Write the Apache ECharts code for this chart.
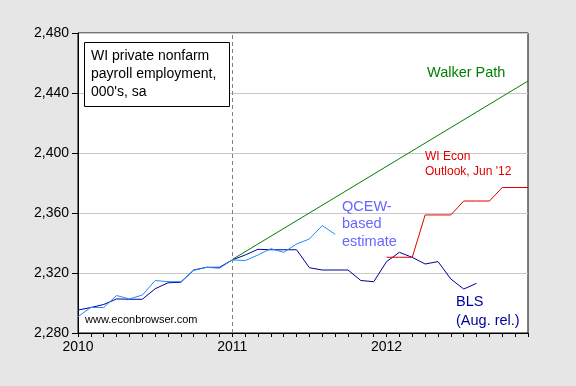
<!DOCTYPE html>
<html>
<head>
<meta charset="utf-8">
<script src="https://cdn.jsdelivr.net/npm/echarts@6/dist/echarts.min.js"></script>
<style>
html,body{margin:0;padding:0;background:#e6e6e6;}
#chart{width:576px;height:386px;}
</style>
</head>
<body>
<div id="chart"></div>
<script>
// Month index: 0 = Jan 2010
const yearLabels = ['2010', '2011', '2012'];
const yTicks = [2280, 2320, 2360, 2400, 2440, 2480];

// BLS (Aug. release), Jan 2010 onward
const blsValues = [2295.3, 2297, 2299, 2302.7, 2302.5, 2302.5, 2309.5, 2313.5, 2313.8, 2322,
  2323.8, 2323.8, 2328.7, 2332, 2335.8, 2335.5, 2335.5, 2335.5, 2323.5, 2322,
  2322, 2322, 2315, 2314.2, 2327.6, 2333.8, 2330.4, 2326, 2327.6, 2316,
  2309.3, 2313.1];
// QCEW-based estimate, Jan 2010 onward
const qcewValues = [2291, 2297, 2297, 2305, 2302.7, 2305.3, 2315, 2314.2, 2314.2, 2321.8,
  2323.8, 2323.2, 2328.7, 2328.3, 2332, 2336.2, 2333.8, 2339.3, 2342.7, 2351.6,
  2345.8];
// Walker Path endpoints (month index, value)
const walkerMonths = [12, 35];
const walkerValues = [2329, 2448];
// WI Econ Outlook, Jun '12, starting Jan 2012 (month 24)
const outlookStart = 24;
const outlookValues = [2330.5, 2330.5, 2330.5, 2358.7, 2358.7, 2358.7, 2368, 2368, 2368, 2377, 2377, 2377];

const pairs = (arr, start) => arr.map((v, i) => [start + i, v]);
const fmt = v => String(v).replace(/\B(?=(\d{3})+(?!\d))/g, ',');
const FONT = '"Liberation Sans", Arial, sans-serif';

const chart = echarts.init(document.getElementById('chart'));
chart.setOption({
  backgroundColor: '#e6e6e6',
  animation: false,
  grid: {left: 78, top: 33, right: 48, bottom: 53, show: true, backgroundColor: '#ffffff', borderColor: '#000', borderWidth: 1},
  xAxis: {
    type: 'value', min: 0, max: 35, interval: 1,
    axisLine: {show: true, lineStyle: {color: '#000', width: 1}},
    axisTick: {show: true, length: 4, lineStyle: {color: '#000'}},
    splitLine: {show: false},
    axisLabel: {
      margin: 7, color: '#000', fontSize: 14, fontFamily: FONT,
      formatter: v => (v % 12 === 0 ? yearLabels[v / 12] : '')
    }
  },
  yAxis: {
    type: 'value', min: yTicks[0], max: yTicks[yTicks.length - 1], interval: 40,
    axisLine: {show: true, lineStyle: {color: '#000', width: 1}},
    axisTick: {show: true, length: 6, lineStyle: {color: '#000'}},
    splitLine: {show: true, lineStyle: {color: '#c8c8c8', width: 1}},
    axisLabel: {margin: 9, color: '#000', fontSize: 14, fontFamily: FONT, formatter: fmt}
  },
  series: [
    {
      name: 'Walker Path', type: 'line', symbol: 'none',
      data: walkerMonths.map((m, i) => [m, walkerValues[i]]),
      lineStyle: {color: '#008000', width: 1},
      markLine: {
        silent: true, symbol: 'none', label: {show: false},
        lineStyle: {color: '#808080', type: [4, 3], width: 1},
        data: [{xAxis: 12}]
      }
    },
    {
      name: 'BLS', type: 'line', symbol: 'none',
      data: pairs(blsValues, 0),
      lineStyle: {color: '#00009c', width: 1}
    },
    {
      name: 'QCEW', type: 'line', symbol: 'none',
      data: pairs(qcewValues, 0),
      lineStyle: {color: '#1e8cff', width: 1}
    },
    {
      name: 'WI Econ Outlook', type: 'line', symbol: 'none',
      data: pairs(outlookValues, outlookStart),
      lineStyle: {color: '#e00000', width: 1}
    }
  ],
  graphic: [
    {type: 'rect', shape: {x: 84.5, y: 42.5, width: 145, height: 64}, style: {fill: '#fff', stroke: '#000', lineWidth: 1}, z: 100},
    {type: 'text', left: 91, top: 47, z: 101, style: {text: 'WI private nonfarm\npayroll employment,\n000\'s, sa', fill: '#000', font: '14px ' + FONT, lineHeight: 18}},
    {type: 'text', left: 427, top: 65, z: 101, style: {text: 'Walker Path', fill: '#008000', font: '14.5px ' + FONT}},
    {type: 'text', left: 425, top: 149.5, z: 101, style: {text: 'WI Econ\nOutlook, Jun \'12', fill: '#e00000', font: '12px ' + FONT, lineHeight: 15}},
    {type: 'text', left: 342, top: 198, z: 101, style: {text: 'QCEW-\nbased\nestimate', fill: '#6666ff', font: '14.5px ' + FONT, lineHeight: 17.5}},
    {type: 'text', left: 456, top: 292, z: 101, style: {text: 'BLS\n(Aug. rel.)', fill: '#00009c', font: '14.5px ' + FONT, lineHeight: 19}},
    {type: 'text', left: 85, top: 314, z: 101, style: {text: 'www.econbrowser.com', fill: '#000', font: '11px ' + FONT}}
  ]
});
</script>
</body>
</html>
